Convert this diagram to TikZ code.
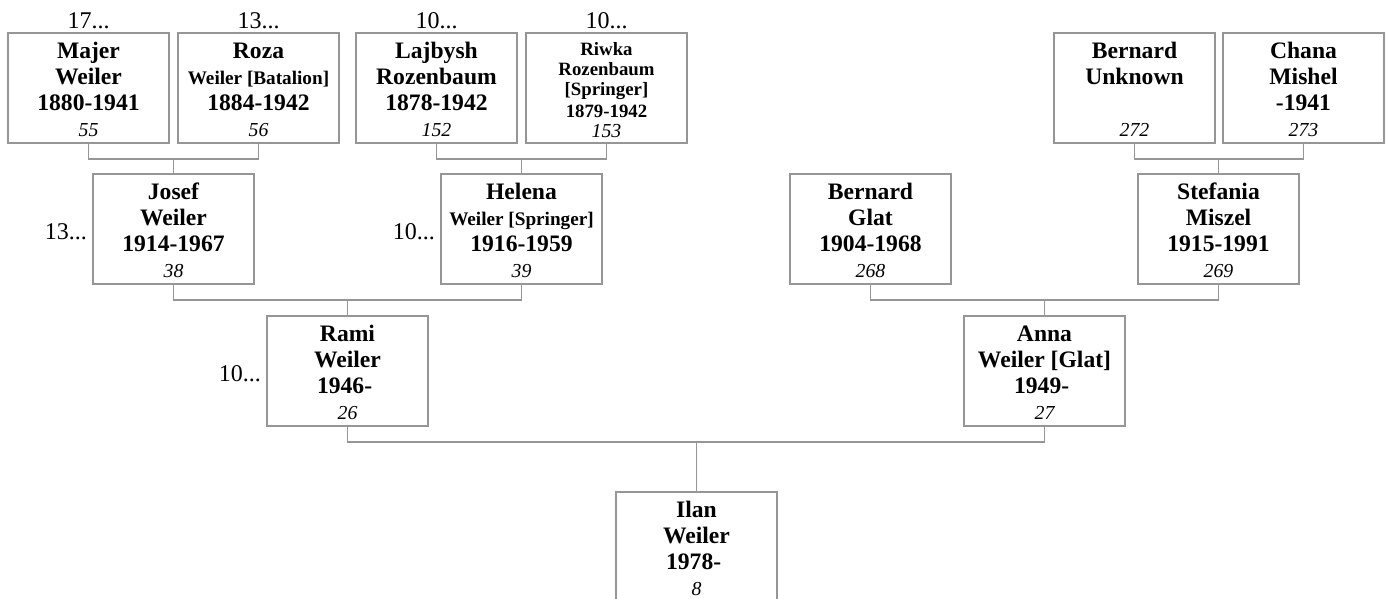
\documentclass[tikz,border=0pt]{standalone}
\usepackage{fontspec}
\setmainfont{Liberation Serif}
\usetikzlibrary{calc}
\definecolor{ln}{RGB}{150,150,150}
\tikzset{
  pbox/.style={draw=ln, line width=1.2pt, minimum width=161pt, minimum height=110pt, inner sep=0pt, outer sep=0pt, anchor=north west},
  conn/.style={draw=ln, line width=1.1pt},
  bt/.style={anchor=base, inner sep=0pt, font=\fontsize{23.6}{24}\selectfont\bfseries},
  rt/.style={anchor=base, inner sep=0pt, font=\fontsize{18.8}{19}\selectfont\bfseries},
  nt/.style={anchor=base, inner sep=0pt, font=\fontsize{19.8}{20}\selectfont\itshape},
  gt/.style={anchor=base, inner sep=0pt, font=\fontsize{24}{24}\selectfont},
}
\newcommand\smf{\fontsize{19.2}{19}\selectfont}
\newcommand\opn{\kern5.75pt}
\newcommand\person[7]{%
  \node[pbox] (#1) at (#2) {};
  \node[bt] (#1-a) at ($(#1.north)+(0,25)$) {#3};
  \node[bt] (#1-b) at ($(#1.north)+(0,51)$) {#4};
  \node[bt] (#1-c) at ($(#1.north)+(0,77)$) {#5};
  \node[nt] (#1-n) at ($(#1.north)+(0,103)$) {#6};
  #7%
}
\begin{document}
\begin{tikzpicture}[x=1pt, y=-1pt]
\useasboundingbox (0,0) rectangle (1387,598);
% row 1
\person{majer}{8,33}{Majer}{Weiler}{1880-1941}{55}{}
\person{roza}{178,33}{Roza}{\smf Weiler [Batalion]}{1884-1942}{56}{}
\person{lajbysh}{356,33}{Lajbysh}{Rozenbaum}{1878-1942}{152}{}
\node[pbox] (riwka) at (526,33) {};
\node[rt] (riwka-a) at ($(riwka.north)+(0,22)$) {Riwka};
\node[rt] (riwka-b) at ($(riwka.north)+(0,42)$) {Rozenbaum};
\node[rt] (riwka-c) at ($(riwka.north)+(0,62.5)$) {[Springer]};
\node[rt] (riwka-d) at ($(riwka.north)+(0,84)$) {1879-1942};
\node[nt] (riwka-n) at ($(riwka.north)+(0,104.5)$) {153};
\person{bernardu}{1054,33}{Bernard}{Unknown}{}{272}{}
\person{chana}{1223,33}{Chana}{Mishel}{-1941}{273}{}
% row 2
\person{josef}{93,174}{Josef}{Weiler}{1914-1967}{38}{}
\person{helena}{441,174}{Helena}{\smf Weiler [Springer]}{1916-1959}{39}{}
\person{glat}{790,174}{Bernard}{Glat}{1904-1968}{268}{}
\person{stefania}{1138,174}{Stefania}{Miszel}{1915-1991}{269}{}
% row 3
\person{rami}{267,316}{Rami}{Weiler}{1946-\opn}{26}{}
\person{anna}{964,316}{Anna}{Weiler [Glat]}{1949-\opn}{27}{}
% row 4
\person{ilan}{616,492}{Ilan}{Weiler}{1978-\opn}{8}{}
% generation labels
\node[gt] (l1) at ($(majer.north)+(0,-5)$) {17...};
\node[gt] (l2) at ($(roza.north)+(0,-5)$) {13...};
\node[gt] (l3) at ($(lajbysh.north)+(0,-5)$) {10...};
\node[gt] (l4) at ($(riwka.north)+(0,-5)$) {10...};
\node[gt, anchor=base east] (l5) at ($(josef.north west)+(-6,65)$) {13...};
\node[gt, anchor=base east] (l6) at ($(helena.north west)+(-6,65)$) {10...};
\node[gt, anchor=base east] (l7) at ($(rami.north west)+(-6,65)$) {10...};
% connectors
\draw[conn] (majer.south) -- ++(0,16) coordinate (c1) -| (roza.south);
\draw[conn] (josef.north) -- (josef.north |- c1);
\draw[conn] (lajbysh.south) -- ++(0,16) coordinate (c2) -| (riwka.south);
\draw[conn] (helena.north) -- (helena.north |- c2);
\draw[conn] (bernardu.south) -- ++(0,16) coordinate (c3) -| (chana.south);
\draw[conn] (stefania.north) -- (stefania.north |- c3);
\draw[conn] (josef.south) -- ++(0,16) coordinate (c4) -| (helena.south);
\draw[conn] (rami.north) -- (rami.north |- c4);
\draw[conn] (glat.south) -- ++(0,16) coordinate (c5) -| (stefania.south);
\draw[conn] (anna.north) -- (anna.north |- c5);
\draw[conn] (rami.south) -- ++(0,16) coordinate (c6) -| (anna.south);
\draw[conn] (ilan.north) -- (ilan.north |- c6);
\end{tikzpicture}
\end{document}
